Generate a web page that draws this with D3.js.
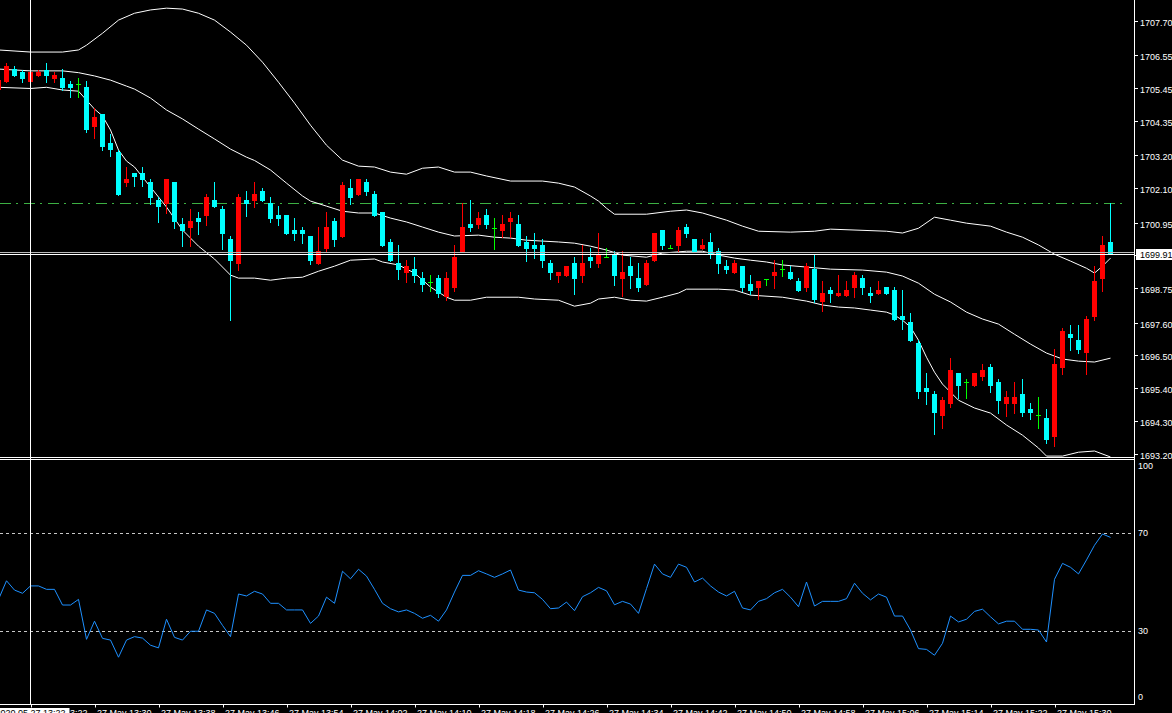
<!DOCTYPE html>
<html>
<head>
<meta charset="utf-8">
<script src="https://cdn.jsdelivr.net/npm/d3@7"></script>
<style>
  html, body { margin: 0; padding: 0; background: #000; overflow: hidden; }
  svg text { font-family: "Liberation Sans", Arial, sans-serif; font-size: 9px; }
</style>
</head>
<body>
<svg id="chart" width="1172" height="713"></svg>
<script>
// ---- data (XAUUSD M1, 27 May 2020) ----
const firstBar = "2020-05-27 13:18";

const opens = [
  1705.39,1705.66,1706.08,1705.99,1705.66,1705.87,1706.07,1705.76,1705.79,1705.59,
  1705.59,1705.49,1704.15,1704.58,1703.61,1703.31,1702.27,1702.61,1702.61,1702.31,
  1701.70,1701.57,1702.31,1700.90,1700.76,1701.10,1701.17,1701.70,1701.40,1700.40,
  1699.56,1701.70,1701.68,1702.00,1701.60,1701.20,1701.20,1700.70,1700.70,1700.50,
  1699.57,1700.07,1701.00,1700.47,1702.10,1701.88,1702.31,1701.90,1701.30,1700.30,
  1699.59,1699.27,1699.39,1699.09,1698.97,1699.09,1698.46,1698.77,1699.97,1700.90,
  1700.88,1701.20,1700.77,1700.67,1700.98,1700.90,1700.30,1700.20,1700.20,1699.59,
  1699.17,1699.17,1699.59,1699.17,1699.79,1699.57,1699.79,1699.89,1699.07,1699.49,
  1699.09,1698.87,1699.67,1700.70,1700.09,1700.17,1700.80,1700.40,1700.07,1700.30,
  1699.99,1699.49,1699.27,1699.49,1698.89,1698.77,1699.07,1699.17,1699.39,1699.29,
  1698.99,1698.77,1699.39,1698.30,1698.69,1698.49,1698.49,1698.77,1699.09,1698.59,
  1698.56,1698.79,1698.69,1697.82,1697.62,1696.91,1695.41,1695.21,1694.48,1694.88,
  1695.91,1695.61,1695.48,1695.78,1696.11,1695.61,1694.88,1694.88,1695.21,1694.70,
  1694.50,1694.40,1693.78,1696.09,1697.21,1697.01,1696.59,1697.79,1699.06,1700.30
];
const highs = [
  1705.82,1706.28,1706.19,1706.06,1706.02,1706.06,1706.28,1705.99,1706.09,1705.69,
  1705.79,1705.69,1704.78,1704.58,1703.91,1703.38,1702.81,1702.61,1702.81,1702.41,
  1701.80,1702.41,1702.31,1701.10,1701.40,1701.30,1701.90,1702.31,1701.50,1700.50,
  1701.90,1702.00,1702.31,1702.10,1701.80,1701.50,1701.20,1701.10,1700.80,1700.50,
  1700.80,1701.30,1701.10,1702.31,1702.41,1702.41,1702.41,1702.00,1701.30,1700.40,
  1700.20,1699.69,1699.79,1699.29,1699.19,1699.19,1699.29,1700.20,1701.60,1701.70,
  1701.30,1701.40,1701.10,1701.20,1701.30,1701.20,1700.50,1700.60,1700.40,1699.69,
  1699.29,1699.49,1699.79,1700.20,1700.09,1700.60,1700.09,1699.99,1699.99,1699.79,
  1699.59,1699.69,1700.60,1700.70,1700.20,1700.80,1700.90,1700.40,1700.40,1700.60,
  1700.09,1699.69,1699.69,1699.49,1699.19,1698.99,1699.07,1699.69,1699.69,1699.49,
  1699.09,1699.59,1699.89,1698.99,1698.79,1699.19,1698.99,1699.29,1699.19,1698.79,
  1698.99,1698.79,1698.79,1698.69,1697.92,1697.01,1695.91,1695.31,1695.10,1696.41,
  1695.91,1695.71,1695.91,1696.21,1696.21,1695.71,1695.31,1695.61,1695.71,1694.90,
  1695.10,1694.70,1696.71,1697.42,1697.52,1697.52,1697.82,1699.49,1700.50,1701.60
];
const lows = [
  1705.32,1705.66,1705.87,1705.66,1705.65,1705.87,1705.66,1705.66,1705.39,1705.16,
  1705.16,1703.99,1703.78,1703.38,1703.18,1701.87,1702.17,1702.17,1702.17,1701.57,
  1700.97,1701.27,1700.76,1700.16,1700.16,1700.56,1700.87,1701.47,1700.06,1697.68,
  1699.36,1701.17,1701.48,1701.68,1700.98,1700.88,1700.57,1700.37,1700.27,1699.57,
  1699.57,1699.97,1700.17,1700.47,1701.58,1701.88,1701.88,1701.18,1700.17,1699.67,
  1699.07,1698.97,1698.97,1698.66,1698.66,1698.46,1698.36,1698.66,1699.97,1700.67,
  1700.77,1700.77,1700.07,1700.47,1700.47,1700.17,1699.67,1699.77,1699.47,1699.07,
  1698.97,1699.17,1698.56,1698.97,1699.47,1699.47,1699.79,1698.87,1698.49,1698.77,
  1698.66,1698.87,1699.67,1700.07,1700.09,1699.99,1700.47,1699.97,1700.07,1699.77,
  1699.27,1699.27,1699.27,1698.66,1698.56,1698.39,1698.87,1698.77,1699.17,1699.07,
  1698.66,1698.66,1698.30,1697.99,1698.30,1698.49,1698.49,1698.46,1698.56,1698.30,
  1698.56,1698.56,1697.69,1697.39,1696.99,1695.08,1694.88,1693.88,1694.08,1694.78,
  1695.08,1695.08,1695.48,1695.68,1695.28,1694.58,1694.48,1694.58,1694.48,1694.38,
  1694.08,1693.57,1693.47,1695.89,1696.69,1696.59,1695.89,1697.69,1698.65,1699.96
];
const closes = [
  1705.72,1706.20,1705.87,1705.76,1705.99,1705.99,1705.87,1705.89,1705.46,1705.46,
  1705.59,1704.05,1704.48,1703.48,1703.38,1701.87,1702.41,1702.47,1702.37,1701.77,
  1701.47,1702.41,1700.97,1700.66,1701.00,1700.97,1701.80,1701.47,1700.56,1699.66,
  1701.80,1701.57,1701.91,1701.68,1701.08,1701.08,1700.57,1700.57,1700.57,1699.67,
  1699.99,1700.80,1700.37,1702.20,1701.78,1702.41,1701.98,1701.18,1700.17,1699.67,
  1699.37,1699.49,1699.17,1698.87,1698.97,1698.56,1699.09,1699.79,1700.80,1700.77,
  1701.10,1700.88,1700.77,1700.90,1701.10,1700.17,1700.07,1700.07,1699.67,1699.27,
  1699.29,1699.49,1699.07,1699.59,1699.67,1699.89,1699.79,1699.17,1699.29,1699.17,
  1698.77,1699.59,1700.60,1700.17,1700.09,1700.70,1700.57,1699.97,1700.20,1699.87,
  1699.57,1699.37,1699.59,1698.77,1698.66,1698.99,1699.07,1699.29,1699.39,1699.07,
  1698.66,1699.49,1698.36,1698.59,1698.56,1698.59,1698.69,1699.19,1698.77,1698.49,
  1698.69,1698.56,1697.69,1697.69,1696.99,1695.28,1695.28,1694.58,1695.00,1696.01,
  1695.48,1695.61,1695.91,1696.01,1695.48,1694.98,1695.10,1695.10,1694.58,1694.58,
  1694.50,1693.67,1696.21,1697.32,1697.09,1696.69,1697.72,1698.99,1700.20,1699.91
];

// RSI(14), one value per bar
const rsiValues = [
  42.9,50.5,46.7,45.4,48.4,48.4,47.0,47.0,40.6,40.6,
  42.9,26.6,34.0,27.0,26.3,19.3,26.3,27.7,27.1,24.2,
  23.1,34.8,27.4,26.3,29.9,29.9,38.6,37.2,32.3,27.7,
  45.1,44.3,46.2,45.1,41.3,41.3,38.6,38.6,38.6,33.1,
  36.1,43.8,41.3,54.4,51.3,55.2,52.4,47.0,41.3,39.1,
  37.8,38.6,37.2,35.2,36.4,34.0,38.6,45.9,52.7,52.7,
  54.6,53.3,51.9,53.3,54.9,46.7,45.9,45.6,42.9,39.1,
  39.4,41.8,38.3,44.0,45.6,47.8,46.4,40.7,42.1,41.0,
  37.2,47.3,57.3,53.3,51.9,57.3,56.0,50.0,51.6,48.4,
  45.9,44.3,46.2,39.4,38.6,42.1,43.2,45.6,47.0,43.8,
  39.9,50.0,40.2,42.1,42.1,42.1,43.2,49.5,45.4,42.7,
  45.1,43.8,36.1,36.1,30.4,22.8,22.5,20.1,25.0,36.1,
  33.7,34.8,38.0,38.9,35.8,32.9,34.0,34.0,30.7,30.7,
  30.4,25.5,51.1,57.6,56.0,53.3,59.0,65.0,69.6,68.2
];

// Bollinger bands, read at a few bar times
const upperBand = [
  ["13:18",1706.73],["13:22",1706.66],["13:26",1706.66],["13:28",1706.73],["13:29",1706.89],
  ["13:31",1707.29],["13:33",1707.73],["13:35",1707.96],["13:37",1708.07],["13:39",1708.13],
  ["13:41",1708.10],["13:43",1707.96],["13:45",1707.73],["13:47",1707.33],["13:49",1706.89],
  ["13:51",1706.32],["13:53",1705.65],["13:55",1704.95],["13:57",1704.21],["13:59",1703.54],
  ["14:01",1703.04],["14:03",1702.84],["14:05",1702.81],["14:07",1702.64],["14:09",1702.57],
  ["14:11",1702.77],["14:13",1702.81],["14:15",1702.64],["14:17",1702.64],["14:19",1702.51],
  ["14:22",1702.34],["14:26",1702.34],["14:28",1702.27],["14:30",1702.14],["14:32",1701.84],
  ["14:33",1701.67],["14:34",1701.43],["14:35",1701.23],["14:39",1701.23],["14:42",1701.33],
  ["14:44",1701.37],["14:46",1701.27],["14:49",1701.03],["14:51",1700.83],["14:53",1700.66],
  ["14:57",1700.63],["15:00",1700.66],["15:02",1700.73],["15:09",1700.66],["15:11",1700.60],
  ["15:13",1700.76],["15:15",1701.13],["15:17",1701.03],["15:19",1700.93],["15:22",1700.83],
  ["15:24",1700.63],["15:26",1700.46],["15:28",1700.20],["15:30",1699.89],["15:32",1699.66],
  ["15:34",1699.42],["15:35",1699.26],["15:36",1699.49],["15:37",1699.76]
];
const middleBand = [
  ["13:18",1706.09],["13:22",1706.03],["13:26",1706.03],["13:28",1705.97],["13:30",1705.86],
  ["13:32",1705.72],["13:34",1705.52],["13:35",1705.42],["13:37",1705.12],["13:39",1704.72],
  ["13:41",1704.42],["13:43",1704.08],["13:45",1703.75],["13:47",1703.41],["13:49",1703.14],
  ["13:50",1703.03],["13:52",1702.71],["13:54",1702.27],["13:56",1701.84],["13:57",1701.67],
  ["13:59",1701.50],["14:01",1701.33],["14:03",1701.27],["14:05",1701.27],["14:07",1701.10],
  ["14:09",1700.97],["14:11",1700.80],["14:13",1700.63],["14:15",1700.50],["14:18",1700.53],
  ["14:20",1700.46],["14:22",1700.43],["14:24",1700.36],["14:26",1700.33],["14:28",1700.30],
  ["14:30",1700.26],["14:32",1700.16],["14:34",1700.03],["14:36",1699.86],["14:39",1699.79],
  ["14:41",1699.93],["14:44",1699.99],["14:46",1699.99],["14:48",1699.86],["14:50",1699.76],
  ["14:52",1699.69],["14:54",1699.63],["14:56",1699.53],["14:59",1699.46],["15:02",1699.39],
  ["15:06",1699.36],["15:09",1699.29],["15:11",1699.16],["15:13",1698.92],["15:15",1698.55],
  ["15:17",1698.29],["15:19",1697.95],["15:21",1697.72],["15:23",1697.55],["15:25",1697.21],
  ["15:27",1696.88],["15:29",1696.58],["15:31",1696.38],["15:33",1696.31],["15:35",1696.28],
  ["15:37",1696.41]
];
const lowerBand = [
  ["13:18",1705.48],["13:22",1705.44],["13:24",1705.48],["13:26",1705.39],["13:28",1705.35],
  ["13:29",1705.05],["13:30",1704.75],["13:31",1704.52],["13:32",1704.05],["13:33",1703.38],
  ["13:34",1703.01],["13:35",1702.81],["13:37",1702.14],["13:39",1701.47],["13:41",1700.70],
  ["13:43",1700.16],["13:45",1699.73],["13:47",1699.19],["13:48",1699.09],["13:50",1699.09],
  ["13:52",1699.02],["13:54",1699.09],["13:56",1699.12],["13:58",1699.32],["14:00",1699.49],
  ["14:02",1699.69],["14:05",1699.73],["14:06",1699.63],["14:08",1699.53],["14:10",1699.26],
  ["14:12",1698.79],["14:14",1698.45],["14:15",1698.35],["14:17",1698.35],["14:19",1698.45],
  ["14:23",1698.45],["14:25",1698.39],["14:28",1698.35],["14:30",1698.15],["14:32",1698.25],
  ["14:33",1698.39],["14:35",1698.45],["14:37",1698.35],["14:39",1698.32],["14:41",1698.45],
  ["14:43",1698.59],["14:44",1698.72],["14:48",1698.72],["14:50",1698.69],["14:52",1698.52],
  ["14:56",1698.45],["14:59",1698.32],["15:01",1698.19],["15:03",1698.12],["15:05",1698.09],
  ["15:07",1698.02],["15:09",1697.95],["15:10",1697.85],["15:11",1697.68],["15:12",1697.45],
  ["15:13",1697.01],["15:14",1696.44],["15:15",1695.94],["15:16",1695.54],["15:18",1695.00],
  ["15:20",1694.74],["15:22",1694.57],["15:24",1694.17],["15:26",1693.83],["15:28",1693.40],
  ["15:29",1693.13],["15:31",1693.13],["15:33",1693.26],["15:35",1693.30],["15:37",1693.10]
];

// axis labels and levels
const priceTicks = [1707.70,1706.55,1705.45,1704.35,1703.20,1702.10,1700.95,1699.85,
                    1698.75,1697.60,1696.50,1695.40,1694.30,1693.20];
const timeTicks = ["13:22","13:30","13:38","13:46","13:54","14:02","14:10","14:18",
                   "14:26","14:34","14:42","14:50","14:58","15:06","15:14","15:22","15:30"];
const rsiLevels = [70, 30];
const rsiLabels = [100, 70, 30, 0];
const dashLevel = 1701.60;     // green dash-dot level
const bidLevel = 1699.98;      // grey line
const crossPrice = 1699.91;    // crosshair price
const crossTime = "13:22";     // crosshair time

// ---- setup ----
const svg = d3.select("#chart");
const parseT = d3.timeParse("%Y-%m-%d %H:%M");
const day = "2020-05-27 ";
const T = s => parseT(day + s);

const axisX = 1134.5;
const mainBottom = 457;
const rsiTop = 460, rsiBottom = 704.5;

// 1 minute = 8px, 13:22 bar centre at x=30.5
const x = d3.scaleTime()
  .domain([T("13:22"), T("13:23")])
  .range([30.5, 38.5]);

const y = d3.scaleLinear()
  .domain([1693.20, 1707.70])
  .range([454, 21]);

const yR = d3.scaleLinear()
  .domain([0, 100])
  .range([704.5, 459.5]);

const t0 = parseT(firstBar);
const bars = opens.map((o, i) => ({
  t: d3.timeMinute.offset(t0, i),
  o, h: highs[i], l: lows[i], c: closes[i], rsi: rsiValues[i]
}));

svg.append("rect").attr("width", 1172).attr("height", 713).attr("fill", "#000");

const defs = svg.append("defs");
defs.append("clipPath").attr("id", "clipMain")
  .append("rect").attr("x", 0).attr("y", 0).attr("width", 1134).attr("height", mainBottom);
defs.append("clipPath").attr("id", "clipRsi")
  .append("rect").attr("x", 0).attr("y", rsiTop).attr("width", 1134).attr("height", rsiBottom - rsiTop);

const main = svg.append("g").attr("clip-path", "url(#clipMain)");
const sub = svg.append("g").attr("clip-path", "url(#clipRsi)");

// ---- main window ----
// green dash-dot level
main.append("line")
  .attr("x1", 0).attr("x2", 1128)
  .attr("y1", Math.round(y(dashLevel)) + 0.5).attr("y2", Math.round(y(dashLevel)) + 0.5)
  .attr("stroke", "#3cb043").attr("stroke-dasharray", "11,5,2,6");

// bands
const bandLine = d3.line()
  .x(d => x(T(d[0])))
  .y(d => y(d[1]));

[upperBand, middleBand, lowerBand].forEach(band => {
  main.append("path")
    .datum(band)
    .attr("d", bandLine)
    .attr("fill", "none")
    .attr("stroke", "#fff")
    .attr("stroke-width", 1);
});

// candles
const colorOf = d => d.c > d.o ? "#ff0000" : (d.c < d.o ? "#00ffff" : "#00ff00");

const candle = main.selectAll("g.bar")
  .data(bars)
  .enter()
  .append("g")
  .attr("class", "bar");

candle.append("line")
  .attr("x1", d => x(d.t)).attr("x2", d => x(d.t))
  .attr("y1", d => Math.round(y(d.h)))
  .attr("y2", d => Math.round(y(d.l)) + 1)
  .attr("stroke", colorOf)
  .attr("shape-rendering", "crispEdges");

candle.append("rect")
  .attr("x", d => x(d.t) - 2.5)
  .attr("width", 5)
  .attr("y", d => Math.round(y(Math.max(d.o, d.c))))
  .attr("height", d => Math.max(1, Math.round(y(Math.min(d.o, d.c))) - Math.round(y(Math.max(d.o, d.c)))))
  .attr("fill", colorOf)
  .attr("shape-rendering", "crispEdges");

// bid and crosshair lines
main.append("line")
  .attr("x1", 0).attr("x2", 1134)
  .attr("y1", Math.round(y(bidLevel)) + 0.5).attr("y2", Math.round(y(bidLevel)) + 0.5)
  .attr("stroke", "#b8b8b8");
main.append("line")
  .attr("x1", 0).attr("x2", 1134)
  .attr("y1", Math.round(y(crossPrice)) + 0.5).attr("y2", Math.round(y(crossPrice)) + 0.5)
  .attr("stroke", "#fff");

// ---- RSI window ----
rsiLevels.forEach(v => {
  sub.append("line")
    .attr("x1", 0).attr("x2", 1134)
    .attr("y1", yR(v) + 0.5).attr("y2", yR(v) + 0.5)
    .attr("stroke", "#c8c8c8")
    .attr("stroke-dasharray", "3,3");
});

sub.append("path")
  .datum(bars)
  .attr("d", d3.line().x(d => x(d.t)).y(d => yR(d.rsi)))
  .attr("fill", "none")
  .attr("stroke", "#1e90ff")
  .attr("stroke-width", 1);

// ---- frames ----
const frame = svg.append("g").attr("stroke", "#fff").attr("shape-rendering", "crispEdges");
frame.append("line").attr("x1", axisX).attr("x2", axisX).attr("y1", 0).attr("y2", 705);
frame.append("line").attr("x1", 0).attr("x2", axisX).attr("y1", 457.5).attr("y2", 457.5);
frame.append("line").attr("x1", 0).attr("x2", axisX).attr("y1", 459.5).attr("y2", 459.5);
frame.append("line").attr("x1", 0).attr("x2", axisX).attr("y1", 704.5).attr("y2", 704.5);

// vertical crosshair
frame.append("line")
  .attr("x1", x(T(crossTime))).attr("x2", x(T(crossTime)))
  .attr("y1", 0).attr("y2", 704);

// price axis
const pAxis = svg.append("g");
priceTicks.forEach(p => {
  const yy = Math.round(y(p)) + 0.5;
  pAxis.append("line")
    .attr("x1", axisX).attr("x2", 1138).attr("y1", yy).attr("y2", yy)
    .attr("stroke", "#fff");
  pAxis.append("text")
    .attr("x", 1140).attr("y", yy + 1)
    .attr("dominant-baseline", "central")
    .attr("fill", "#fff")
    .text(d3.format(".2f")(p));
});

// current price box
const cy = Math.round(y(crossPrice));
pAxis.append("rect")
  .attr("x", 1136).attr("y", cy - 5).attr("width", 36).attr("height", 11)
  .attr("fill", "#fff");
pAxis.append("text")
  .attr("x", 1140).attr("y", cy + 1)
  .attr("dominant-baseline", "central")
  .attr("fill", "#000")
  .text(d3.format(".2f")(crossPrice));

// RSI axis labels
rsiLabels.forEach(v => {
  let yy = yR(v);
  if (v === 100) yy += 6.5;
  if (v === 0) yy -= 7.5;
  svg.append("text")
    .attr("x", 1138).attr("y", yy)
    .attr("dominant-baseline", "central")
    .attr("fill", "#fff")
    .text(v);
});

// time axis
const fmtTick = d3.timeFormat("%d %b %H:%M");
timeTicks.forEach(s => {
  const xx = Math.round(x(T(s))) + 0.5;
  svg.append("line")
    .attr("x1", xx).attr("x2", xx).attr("y1", 704.5).attr("y2", 707.5)
    .attr("stroke", "#fff");
  svg.append("text")
    .attr("x", xx + 1.5).attr("y", 716)
    .attr("fill", "#fff")
    .text(fmtTick(T(s)));
});

// crosshair time box
const cx = x(T(crossTime));
const fmtCross = d3.timeFormat("%Y.%m.%d %H:%M");
svg.append("rect")
  .attr("x", cx - 39).attr("y", 708).attr("width", 78).attr("height", 8)
  .attr("fill", "#fff");
svg.append("text")
  .attr("x", cx).attr("y", 716)
  .attr("text-anchor", "middle")
  .attr("fill", "#000")
  .text(fmtCross(T(crossTime)));
</script>
</body>
</html>
